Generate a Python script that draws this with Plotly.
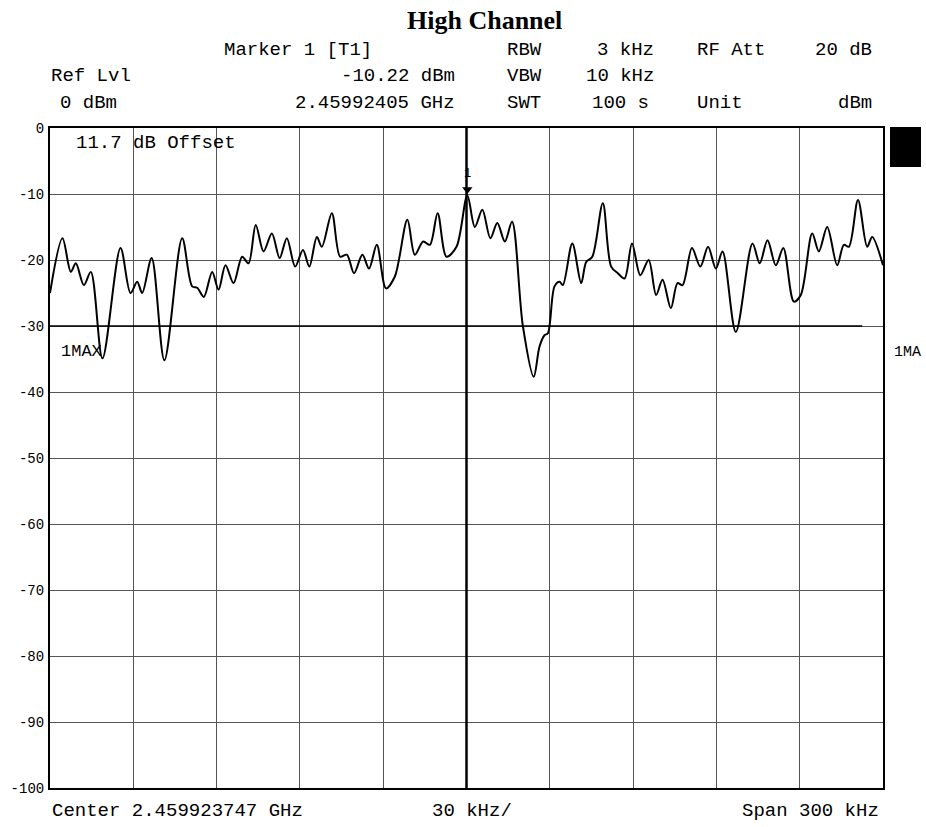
import plotly.graph_objects as go

# Spectrum analyser trace, frequency offset from centre (kHz) and level (dBm)
freq_khz = [-150, -145.5, -142.5, -140.7, -137.8, -135.3, -131.1, -124.6, -121.0, -118.6,
            -116.8, -113.4, -108.8, -102.4, -98.8, -97.0, -94.6, -91.6, -89.3, -86.8,
            -83.9, -80.8, -78.5, -75.9, -73.1, -70.1, -67.3, -64.7, -61.7, -58.9,
            -56.6, -53.9, -52.1, -48.5, -45.5, -43.1, -40.5, -37.5, -35.1, -32.3,
            -29.0, -25.8, -21.3, -18.6, -15.6, -13.2, -10.4, -7.2, -3.6, 0.3,
            3.0, 5.7, 8.6, 11.1, 13.8, 16.4, 20.3, 24.2, 26.3, 28.1,
            29.3, 31.7, 33.5, 34.7, 38.1, 41.3, 43.1, 45.3, 49.1, 52.1,
            54.5, 56.9, 59.6, 62.6, 65.6, 68.3, 70.6, 73.6, 76.0, 77.8,
            81.2, 84.2, 87.0, 89.8, 92.2, 97.0, 103.0, 105.6, 108.4, 111.4,
            114.1, 117.9, 120.4, 124.5, 126.9, 129.9, 133.5, 135.9, 137.7, 141.0,
            144.3, 146.1, 150]
level_dbm = [-25, -16.7, -21.8, -20.5, -23.8, -21.8, -34.9, -18.2, -25, -23.3,
             -25, -19.7, -35.2, -16.7, -24, -24.2, -25.6, -21.8, -24.5, -20.8,
             -23.5, -19.5, -20.5, -14.7, -18.7, -16, -19.7, -16.7, -21, -18.5,
             -21, -16.5, -18, -12.9, -19.5, -19.2, -22, -19.2, -21.3, -17.7,
             -24.3, -22.5, -13.9, -19.2, -17.2, -17.7, -12.9, -19.5, -18, -10.22,
             -15, -12.4, -16.7, -14.4, -17.2, -14.2, -30, -37.7, -33.1, -31.4,
             -31.1, -24, -23.3, -23.8, -17.5, -23.5, -20.3, -19.5, -11.4, -21,
             -22, -22.8, -17.5, -22.3, -20, -25.3, -23, -27.3, -23.5, -23.8,
             -18.2, -21, -18, -21.3, -18.7, -30.9, -17.5, -20.5, -17, -20.8,
             -18.2, -26.3, -25.3, -16, -18.7, -15, -20.8, -17.7, -18, -10.9,
             -18, -16.5, -20.8]

marker_khz = [0.3]
marker_dbm = [-10.22]
display_line_dbm = -30
y_ticks = [0, -10, -20, -30, -40, -50, -60, -70, -80, -90, -100]
x_ticks = [-150, -120, -90, -60, -30, 0, 30, 60, 90, 120, 150]

# plot area in pixels
L, R, T, B = 50, 883, 128, 788
W, H = 926, 827
MONO = "Liberation Mono, DejaVu Sans Mono, monospace"


def pos(x, y):
    return (x - L) / (R - L), (B - y) / (B - T)


fig = go.Figure()
fig.add_trace(go.Scatter(x=freq_khz, y=level_dbm, mode="lines",
                         line=dict(color="black", width=2, shape="spline", smoothing=0.9),
                         hoverinfo="skip", showlegend=False))
fig.add_trace(go.Scatter(x=marker_khz, y=[marker_dbm[0] + 0.9], mode="markers",
                         marker=dict(symbol="triangle-down", size=9, color="black"),
                         hoverinfo="skip", showlegend=False))

# display line at -30 dBm and heavy centre line
fig.add_shape(type="line", xref="x", yref="y", x0=-150, x1=142.5,
              y0=display_line_dbm, y1=display_line_dbm, line=dict(color="black", width=1.5))
fig.add_shape(type="line", xref="x", yref="paper", x0=0, x1=0, y0=0, y1=1,
              line=dict(color="black", width=2.5))

texts = [
    # (text, x px, y px, anchor, size)
    ("Marker 1 [T1]", 222, 50, "left", 19),
    ("RBW", 505, 50, "left", 19),
    ("3 kHz", 656, 50, "right", 19),
    ("RF Att", 695, 50, "left", 19),
    ("20 dB", 874, 50, "right", 19),
    ("Ref Lvl", 49, 76, "left", 19),
    ("-10.22 dBm", 457, 76, "right", 19),
    ("VBW", 505, 76, "left", 19),
    ("10 kHz", 656, 76, "right", 19),
    ("0 dBm", 58, 103, "left", 19),
    ("2.45992405 GHz", 457, 103, "right", 19),
    ("SWT", 505, 103, "left", 19),
    ("100 s", 590, 103, "left", 19),
    ("Unit", 695, 103, "left", 19),
    ("dBm", 874, 103, "right", 19),
    ("11.7 dB Offset", 74, 143, "left", 19),
    ("1MAX", 59, 351, "left", 17),
    ("1MA", 892, 352, "left", 15),
    ("1", 467, 174, "center", 12),
    ("Center 2.459923747 GHz", 50, 811, "left", 19),
    ("30 kHz/", 430, 811, "left", 19),
    ("Span 300 kHz", 881, 811, "right", 19),
]
for t, x, y, anc, sz in texts:
    px_, py_ = pos(x, y)
    fig.add_annotation(text=t, x=px_, y=py_, xref="paper", yref="paper",
                       xanchor=anc, yanchor="middle", showarrow=False,
                       font=dict(family=MONO, size=sz, color="black"))

tx, ty = pos(485, 20)
fig.add_annotation(text="<b>High Channel</b>", x=tx, y=ty, xref="paper", yref="paper",
                   xanchor="center", yanchor="middle", showarrow=False,
                   font=dict(family="Liberation Serif, Times New Roman, serif", size=26, color="black"))

# black status block at right
x0, y0 = pos(890, 127)
x1, y1 = pos(921, 167)
fig.add_shape(type="rect", xref="paper", yref="paper", x0=x0, x1=x1, y0=y1, y1=y0,
              fillcolor="black", line=dict(width=0))

fig.update_xaxes(range=[-150, 150], tickvals=x_ticks, showticklabels=False,
                 showgrid=True, gridcolor="#555555", gridwidth=1, zeroline=False,
                 showline=True, linecolor="black", linewidth=2, mirror=True, ticks="")
fig.update_yaxes(range=[-100, 0], tickvals=y_ticks, ticktext=[str(v) for v in y_ticks],
                 showgrid=True, gridcolor="#555555", gridwidth=1, zeroline=False,
                 showline=True, linecolor="black", linewidth=2, mirror=True, ticks="",
                 tickfont=dict(family=MONO, size=14, color="black"), ticklabelstandoff=1)

fig.update_layout(width=W, height=H, plot_bgcolor="white", paper_bgcolor="white",
                  margin=dict(l=L, r=W - R, t=T, b=H - B), showlegend=False)

# drop the default page margin so the figure sits at the window origin
fig.write_html("out.html", config={"displayModeBar": False},
               post_script="document.body.style.margin='0';document.body.style.overflow='hidden';")
